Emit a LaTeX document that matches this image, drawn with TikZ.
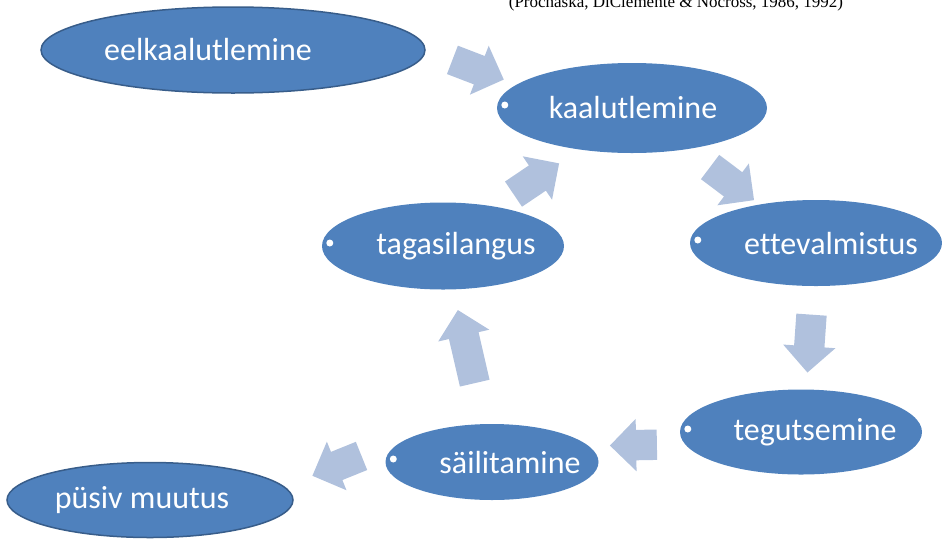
\documentclass[tikz,border=0pt]{standalone}
\usepackage{fontspec}
\setmainfont[Ligatures=NoCommon]{Carlito}
\newfontfamily\citefont{Liberation Serif}
\usetikzlibrary{shapes.geometric,shapes.arrows}
\definecolor{stageblue}{RGB}{79,129,189}
\definecolor{stageedge}{RGB}{56,93,138}
\definecolor{flowblue}{RGB}{176,193,221}
\begin{document}
\begin{tikzpicture}[x=1pt,y=-1pt,
  stage/.style={ellipse,fill=stageblue,inner sep=0},
  stagetext/.style={text=white,font=\fontsize{32}{34}\selectfont,inner sep=0},
  flow/.style={single arrow,fill=flowblue,inner sep=0,inner ysep=15pt,single arrow head extend=11pt,minimum height=#1},
  flow/.default=55pt]
\useasboundingbox (0,0) rectangle (942,539);
\clip (0,0) rectangle (942,539);
\node[font=\citefont\fontsize{17}{19}\selectfont,anchor=base] (cite) at (676,7) {(Prochaska, DiClemente \& Nocross, 1986, 1992)};
% etapid
\node[stage,draw=stageedge,line width=1.5pt,minimum width=384pt,minimum height=86pt] (eelk) at (233,50) {};
\node[stage,minimum width=270pt,minimum height=90pt] (kaal) at (632,108) {};
\node[stage,minimum width=252pt,minimum height=86pt] (ette) at (816,243) {};
\node[stage,minimum width=242pt,minimum height=87pt] (taga) at (443,246) {};
\node[stage,minimum width=242pt,minimum height=85pt] (tegu) at (801,432) {};
\node[stage,minimum width=213pt,minimum height=76pt] (sail) at (492,462) {};
\node[stage,draw=stageedge,line width=1.5pt,minimum width=286pt,minimum height=75pt] (pysiv) at (150,500) {};
\node[stagetext] at ([xshift=-25pt]eelk) {eelkaalutlemine};
\node[stagetext] at ([xshift=1pt]kaal) {kaalutlemine};
\node[stagetext] at ([xshift=15pt]ette) {ettevalmistus};
\node[stagetext] at ([xshift=13pt]taga) {tagasilangus};
\node[stagetext] at ([xshift=14pt]tegu) {tegutsemine};
\node[stagetext] at ([xshift=18pt]sail) {säilitamine};
\node[stagetext] at ([xshift=-8pt]pysiv) {püsiv muutus};
\foreach \n in {kaal,ette,taga,tegu,sail}
  \fill[white] ([xshift=8pt,yshift=3pt]\n.west) circle (3.5pt);
% nooled
\node[flow,rotate=-21] (f1) at (471,67) {};
\node[flow,rotate=-37] (f2) at (726,179) {};
\node[flow=58pt,rotate=-94] (f3) at (810,336) {};
\node[flow=47pt,rotate=181] (f4) at (641,445) {};
\node[flow=53pt,rotate=202] (f5) at (344,463) {};
\node[flow=75pt,rotate=103] (f6) at (468,354) {};
\node[flow,rotate=34] (f7) at (530,183) {};
\end{tikzpicture}
\end{document}
